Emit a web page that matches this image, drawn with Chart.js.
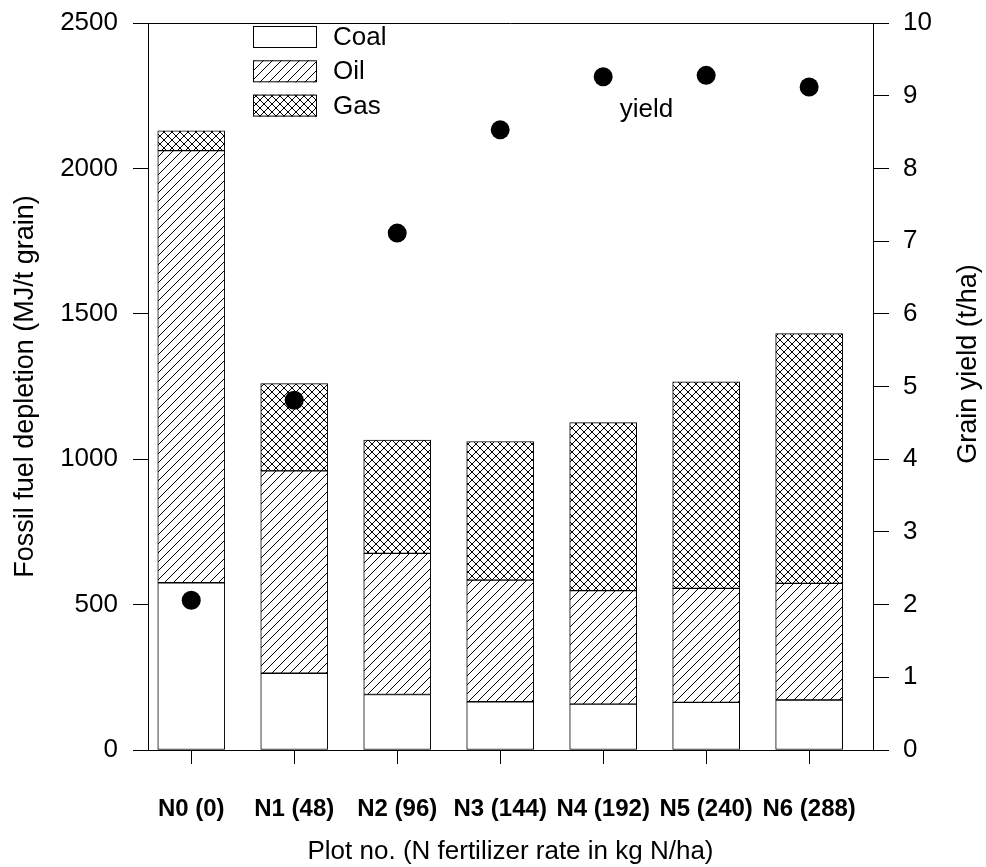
<!DOCTYPE html>
<html>
<head>
<meta charset="utf-8">
<title>Fossil fuel depletion</title>
<script src="https://cdn.jsdelivr.net/npm/chart.js@4.4.1/dist/chart.umd.min.js"></script>
<style>
    body { margin: 0; background: #fff; }
    #contenedor { width: 986px; height: 867px; }
</style>
</head>
<body>
<div id="contenedor"><canvas id="grafico" width="986" height="867"></canvas></div>
<script>
// ==================== DATOS ====================
const categorias = ['N0 (0)', 'N1 (48)', 'N2 (96)', 'N3 (144)', 'N4 (192)', 'N5 (240)', 'N6 (288)'];
const carbon = [575, 264, 191, 166, 158, 164, 172];
const petroleo = [1486, 696, 485, 418, 390, 392, 401];
const gas = [68, 300, 390, 477, 578, 710, 859];
const rendimiento = [2.06, 4.81, 7.11, 8.53, 9.26, 9.28, 9.12];

const FUENTE = "'Liberation Sans', Arial, Helvetica, sans-serif";
Chart.defaults.font.family = FUENTE;
Chart.defaults.color = '#000';

// ==================== TRAMAS ====================
const ctxPrincipal = document.getElementById('grafico').getContext('2d');

function crearTrama(tipo) {
    const t = tipo === 'cruz' ? 8 : 9;
    const c = document.createElement('canvas');
    c.width = t; c.height = t;
    const g = c.getContext('2d');
    g.fillStyle = '#fff';
    g.fillRect(0, 0, t, t);
    g.strokeStyle = '#000';
    g.lineWidth = 1;
    g.beginPath();
    g.moveTo(-1, t + 1); g.lineTo(t + 1, -1);
    g.moveTo(-1, 1); g.lineTo(1, -1);
    g.moveTo(t - 1, t + 1); g.lineTo(t + 1, t - 1);
    if (tipo === 'cruz') {
        g.moveTo(-1, -1); g.lineTo(t + 1, t + 1);
        g.moveTo(t - 1, -1); g.lineTo(t + 1, 1);
        g.moveTo(-1, t - 1); g.lineTo(1, t + 1);
    }
    g.stroke();
    return ctxPrincipal.createPattern(c, 'repeat');
}

const aPuntos = arr => arr.map((v, i) => ({ x: i, y: v }));

// ejes verticales sin relleno extra por las etiquetas
function ajustarVertical(ancho) {
    return s => {
        s.width = ancho;
        s.paddingTop = 0;
        s.paddingBottom = 0;
    };
}

// ==================== PLUGIN EXTRAS ====================
const extras = {
    id: 'extras',
    afterDraw(chart) {
        const { ctx, chartArea: a, scales } = chart;
        ctx.save();
        // marco superior
        ctx.strokeStyle = '#000';
        ctx.lineWidth = 1;
        ctx.beginPath();
        ctx.moveTo(a.left, a.top + 0.5);
        ctx.lineTo(a.right, a.top + 0.5);
        ctx.stroke();

        // leyenda
        ctx.font = '26px ' + FUENTE;
        ctx.textBaseline = 'middle';
        ctx.textAlign = 'left';
        ctx.fillStyle = '#000';
        chart.data.datasets.filter(d => d.type !== 'line').forEach((d, i) => {
            const y = 26 + i * 34.3;
            ctx.fillStyle = d.backgroundColor;
            ctx.fillRect(253, y, 64, 22);
            ctx.strokeRect(253.5, y + 0.5, 63, 21);
            ctx.fillStyle = '#000';
            ctx.fillText(d.label, 333, y + 12);
        });

        // etiqueta de rendimiento
        ctx.textAlign = 'center';
        ctx.fillText('yield', scales.x.getPixelForValue(4.42), scales.y1.getPixelForValue(8.8));

        // titulo eje derecho
        ctx.font = '27px ' + FUENTE;
        ctx.translate(969, 364);
        ctx.rotate(-Math.PI / 2);
        ctx.fillText('Grain yield (t/ha)', 0, 0);
        ctx.restore();
    }
};

// ==================== GRAFICO ====================
new Chart(ctxPrincipal, {
    type: 'bar',
    data: {
        datasets: [
            {
                type: 'line', label: 'yield', data: aPuntos(rendimiento), yAxisID: 'y1', order: 0,
                showLine: false, pointRadius: 9.5, pointHoverRadius: 9.5,
                pointBackgroundColor: '#000', pointBorderWidth: 0
            },
            { label: 'Coal', data: aPuntos(carbon), backgroundColor: '#fff', order: 1 },
            { label: 'Oil', data: aPuntos(petroleo), backgroundColor: crearTrama('linea'), order: 1 },
            { label: 'Gas', data: aPuntos(gas), backgroundColor: crearTrama('cruz'), order: 1 }
        ].map(d => d.type === 'line' ? d : Object.assign(d, {
            borderColor: '#000', borderWidth: 1, borderSkipped: false, barThickness: 67, yAxisID: 'y'
        }))
    },
    options: {
        responsive: false,
        animation: false,
        layout: { padding: { top: 23, left: 0, right: 0, bottom: 0 } },
        plugins: { legend: { display: false }, tooltip: { enabled: false } },
        scales: {
            x: {
                type: 'linear', min: -0.42, max: 6.62, stacked: true, offset: false,
                afterBuildTicks: s => { s.ticks = categorias.map((c, i) => ({ value: i })); },
                afterFit: s => { s.height = 117; s.paddingLeft = 0; s.paddingRight = 0; },
                ticks: {
                    callback: v => categorias[v], autoSkip: false, maxRotation: 0,
                    font: { size: 24, weight: 'bold' }, color: '#000', padding: 31
                },
                grid: { offset: false, drawOnChartArea: false, tickLength: 14, color: '#000' },
                border: { color: '#000' },
                title: {
                    display: true, text: 'Plot no. (N fertilizer rate in kg N/ha)',
                    font: { size: 26 }, color: '#000', padding: { top: 0, bottom: 0 }
                }
            },
            y: {
                position: 'left', stacked: true, min: 0, max: 2500,
                afterFit: ajustarVertical(148),
                ticks: { stepSize: 500, callback: v => String(v), font: { size: 26 }, color: '#000', padding: 15 },
                grid: { drawOnChartArea: false, tickLength: 15, color: '#000' },
                border: { color: '#000' },
                title: {
                    display: true, text: 'Fossil fuel depletion (MJ/t grain)',
                    font: { size: 27 }, color: '#000', padding: { top: 9, bottom: 0 }
                }
            },
            y1: {
                position: 'right', min: 0, max: 10,
                afterFit: ajustarVertical(113),
                ticks: { stepSize: 1, font: { size: 26 }, color: '#000', padding: 14 },
                grid: { drawOnChartArea: false, tickLength: 16, color: '#000' },
                border: { color: '#000' }
            }
        }
    },
    plugins: [extras]
});
</script>
</body>
</html>
